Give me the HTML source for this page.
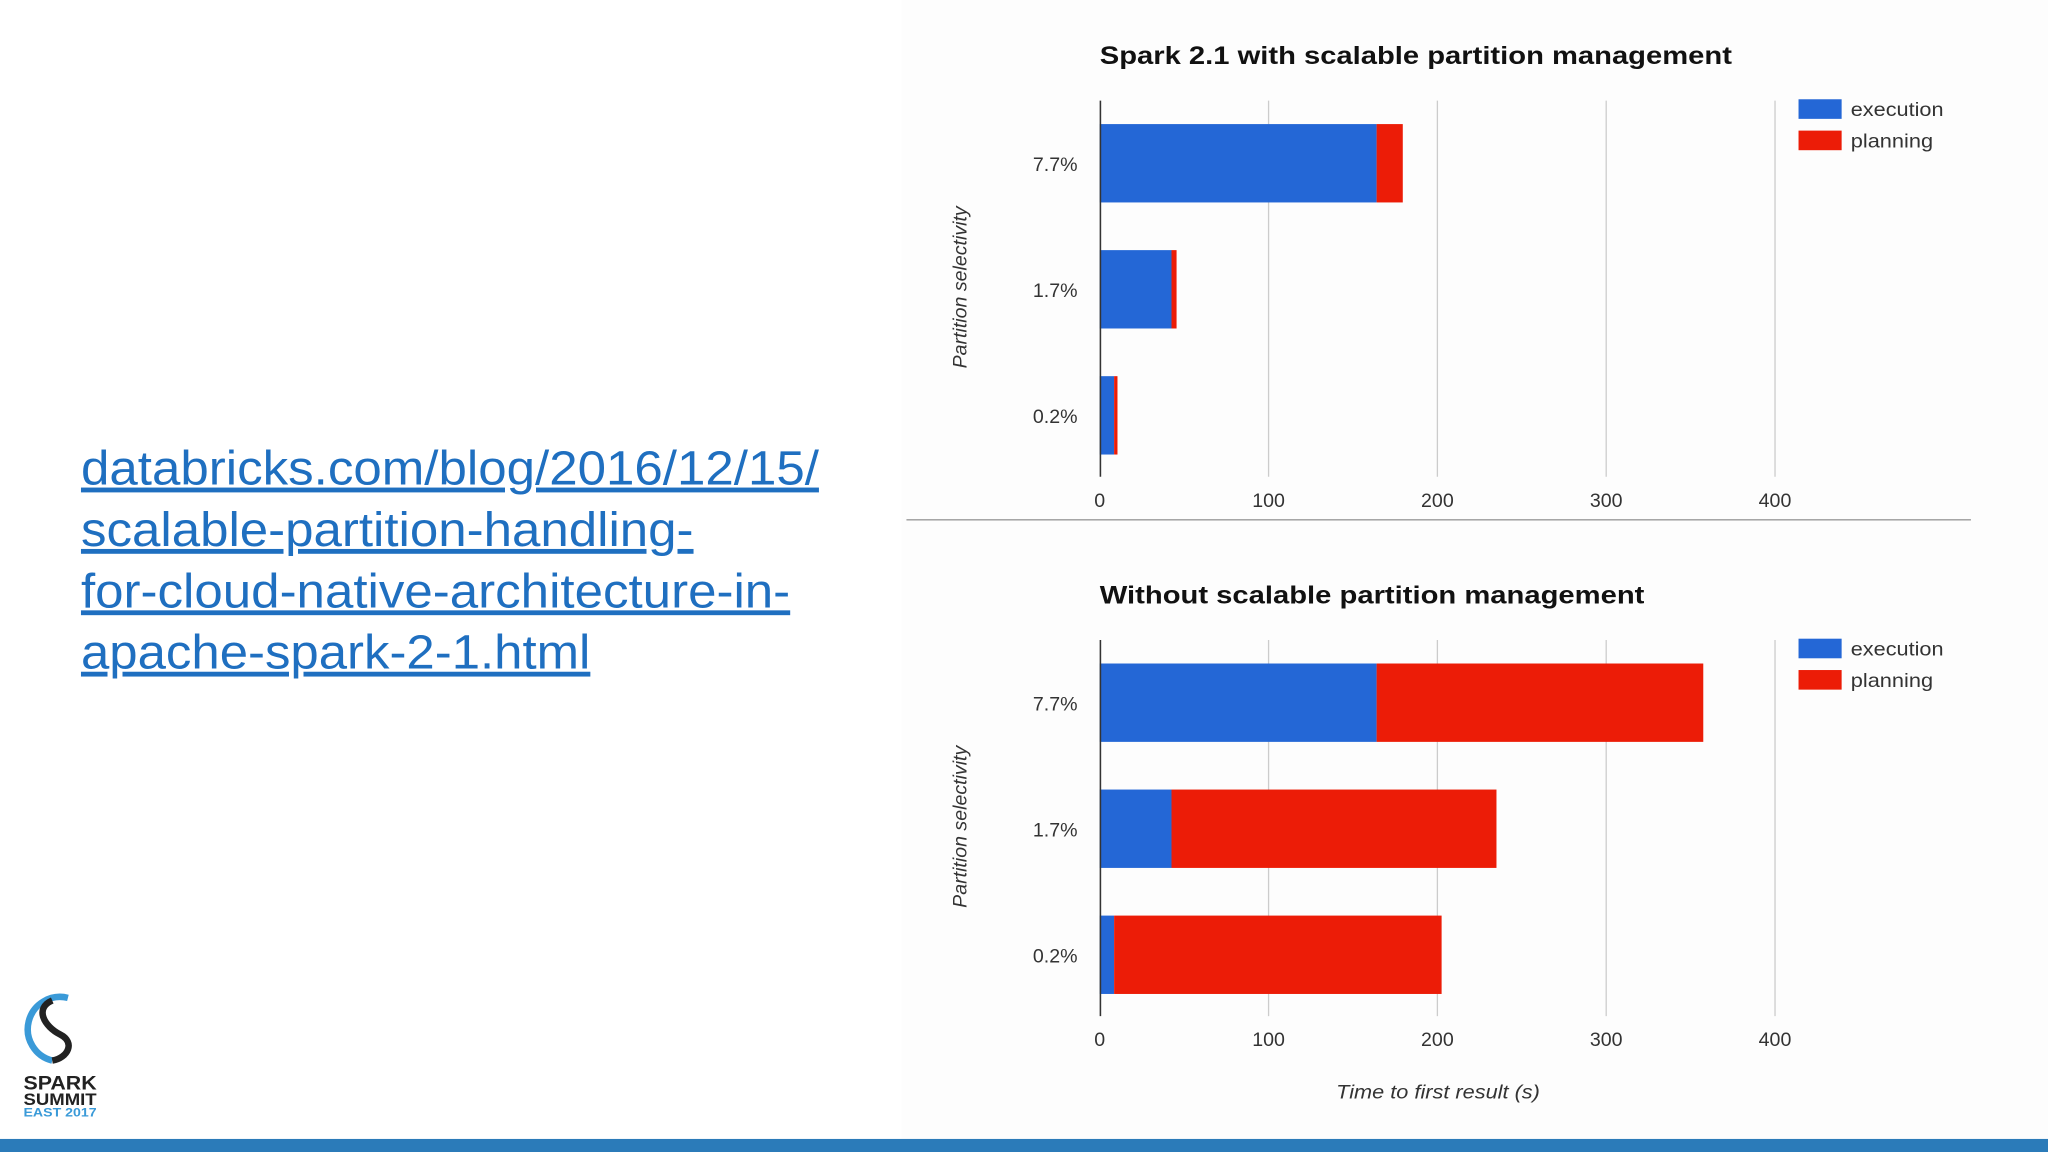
<!DOCTYPE html>
<html><head><meta charset="utf-8"><style>
html,body{margin:0;padding:0;background:#fff;}
svg{display:block;font-family:"Liberation Sans",Arial,sans-serif;}
</style></head><body>
<svg id="s" width="2048" height="1152" viewBox="0 0 1568 882" xmlns="http://www.w3.org/2000/svg">
<rect x="0" y="0" width="1568" height="882" fill="#ffffff"/>
<rect x="690" y="0" width="878" height="872" fill="#fdfdfd"/>
<g fill="#1f6fc0" font-size="37" text-decoration="underline">
<text x="62" y="371" textLength="565" lengthAdjust="spacingAndGlyphs">databricks.com/blog/2016/12/15/</text>
<text x="62" y="418" textLength="469" lengthAdjust="spacingAndGlyphs">scalable-partition-handling-</text>
<text x="62" y="465" textLength="543" lengthAdjust="spacingAndGlyphs">for-cloud-native-architecture-in-</text>
<text x="62" y="512" textLength="390" lengthAdjust="spacingAndGlyphs">apache-spark-2-1.html</text>
</g>
<g>
<path d="M52 764 A22 22 0 1 0 40 812" fill="none" stroke="#3a9ad8" stroke-width="5"/>
<path d="M40 766 C26 772 34 786 46 792 C58 798 52 810 40 812" fill="none" stroke="#222" stroke-width="5"/>
<text x="46" y="834" font-size="15" font-weight="bold" text-anchor="middle" fill="#222" textLength="56" lengthAdjust="spacingAndGlyphs">SPARK</text>
<text x="46" y="846" font-size="13" font-weight="bold" text-anchor="middle" fill="#222" textLength="56" lengthAdjust="spacingAndGlyphs">SUMMIT</text>
<text x="46" y="855" font-size="9" font-weight="bold" text-anchor="middle" fill="#3a9ad8" textLength="56" lengthAdjust="spacingAndGlyphs">EAST 2017</text>
</g>
<line x1="694" y1="398" x2="1509" y2="398" stroke="#999" stroke-width="1"/>
<rect x="0" y="872" width="1568" height="10" fill="#2b7bb9"/>
<g id="charts"></g>
</svg>
<script>
const categories = ["7.7%", "1.7%", "0.2%"];
const topExecution = [164, 42.5, 8.5];
const topPlanning = [15.5, 3, 2];
const bottomExecution = [164, 42.5, 8.5];
const bottomPlanning = [193.5, 192.5, 194];
const tickValues = [0, 100, 200, 300, 400];
const NS = "http://www.w3.org/2000/svg";
const root = document.getElementById("charts");
function mk(tag, attrs, parent) {
  const e = document.createElementNS(NS, tag);
  for (const k in attrs) e.setAttribute(k, attrs[k]);
  parent.appendChild(e);
  return e;
}
function drawChart(offY, title, titleLen, exec, plan, showXTitle, key) {
  const g = mk("g", {}, root);
  
  
  const x0 = 842, pxPer = (1359 - 842) / 400;
  const xs = v => x0 + v * pxPer;
  const t = mk("text", {x: 842, y: offY + 49, "font-size": 19, "font-weight": "bold", fill: "#111", textLength: titleLen, lengthAdjust: "spacingAndGlyphs"}, g);
  t.textContent = title;
  
  
  tickValues.forEach(v => {
    if (v > 0) {
      const gl = mk("line", {x1: xs(v), x2: xs(v), y1: offY + 77, y2: offY + 365, stroke: "#cccccc", "stroke-width": 1}, g);
      
      
    }
    const tl = mk("text", {x: xs(v), y: offY + 388, "font-size": 15, "text-anchor": "middle", fill: "#333"}, g);
    tl.textContent = v;
    
    
  });
  const band = 96.5;
  categories.forEach((c, i) => {
    const y = offY + 95 + i * band;
    const b1 = mk("rect", {x: xs(0), y: y, width: xs(exec[i]) - xs(0), height: 60, fill: "#2467d6"}, g);
    
    
    const b2 = mk("rect", {x: xs(exec[i]), y: y, width: xs(exec[i] + plan[i]) - xs(exec[i]), height: 60, fill: "#ec1c07"}, g);
    
    
    const lab = mk("text", {x: 825, y: y + 36, "font-size": 15, "text-anchor": "end", fill: "#333"}, g);
    lab.textContent = c;
    
    
  });
  const ax = mk("line", {x1: 842.5, x2: 842.5, y1: offY + 77, y2: offY + 365, stroke: "#333", "stroke-width": 1.2}, g);
  
  
  const yt = mk("text", {x: 0, y: 0, "font-size": 15, "font-style": "italic", "text-anchor": "middle", fill: "#333", transform: "translate(740," + (offY + 220) + ") rotate(-90)"}, g);
  yt.textContent = "Partition selectivity";
  
  
  [["execution", "#2467d6", 76], ["planning", "#ec1c07", 100]].forEach(([n, col, yy]) => {
    const le = mk("g", {}, g);
    
    
    mk("rect", {x: 1377, y: offY + yy, width: 33, height: 15, fill: col}, le);
    const lt = mk("text", {x: 1417, y: offY + yy + 13, "font-size": 15, fill: "#333", textLength: n === "execution" ? 71 : 63, lengthAdjust: "spacingAndGlyphs"}, le);
    lt.textContent = n;
  });
  if (showXTitle) {
    const xt = mk("text", {x: 1023, y: offY + 428, "font-size": 15, "font-style": "italic", fill: "#333", textLength: 156, lengthAdjust: "spacingAndGlyphs"}, g);
    xt.textContent = "Time to first result (s)";
    
    
  }
}
drawChart(0, "Spark 2.1 with scalable partition management", 484, topExecution, topPlanning, false, "top");
drawChart(413, "Without scalable partition management", 417, bottomExecution, bottomPlanning, true, "bottom");
</script>
</body></html>
